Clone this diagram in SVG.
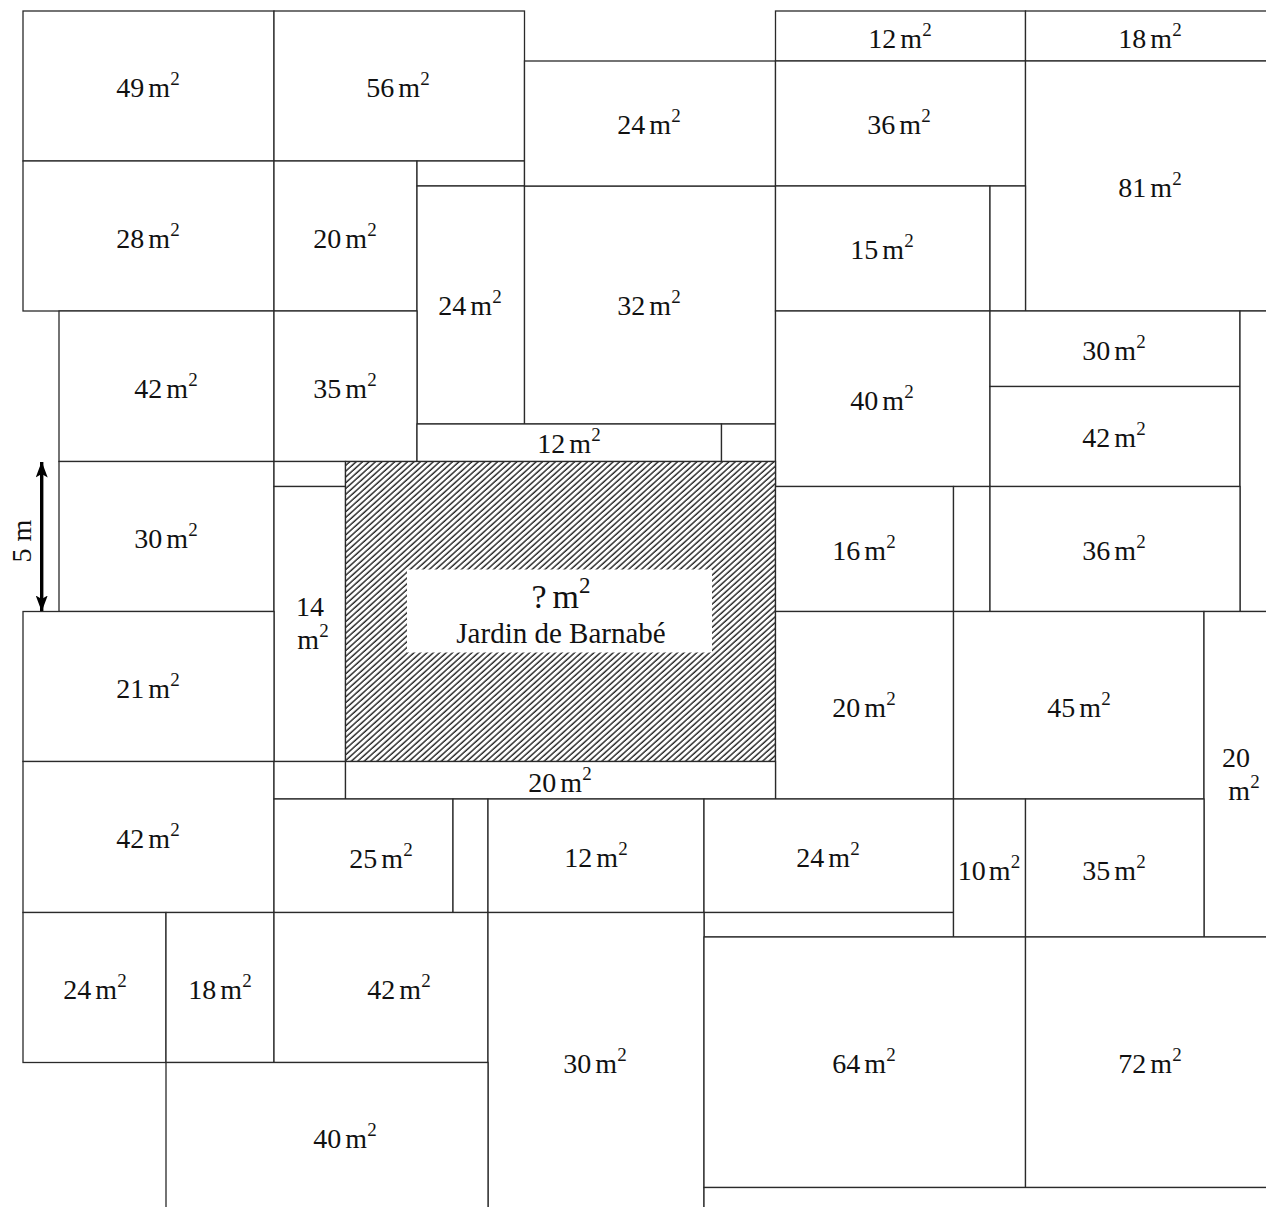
<svg xmlns="http://www.w3.org/2000/svg" width="1266" height="1207" viewBox="0 0 1266 1207">
<defs>
<style>
.c{fill:#fff;stroke:#2a2a2a;stroke-width:1.3}
text{font-family:"Liberation Serif","Times New Roman",serif;font-size:28px;fill:#111;text-anchor:middle}
.s{font-size:19px}
.big{font-size:34px}
.bs{font-size:23px}
</style>
<pattern id="hatch" width="4.3" height="10" patternUnits="userSpaceOnUse" patternTransform="rotate(48)">
<rect width="4.3" height="10" fill="#fff"/>
<line x1="1" y1="0" x2="1" y2="10" stroke="#1a1a1a" stroke-width="1.35"/>
</pattern>
<marker id="ah" viewBox="0 0 16 12" refX="15.5" refY="6" markerWidth="16" markerHeight="12" markerUnits="userSpaceOnUse" orient="auto-start-reverse">
<path d="M0,0 L16,6 L0,12 L3.5,6 z" fill="#000"/>
</marker>
</defs>
<rect width="1266" height="1207" fill="#fff"/>

<g id="p49"><rect class="c" x="23" y="11" width="251" height="150"/><text x="148" y="97">49<tspan dx="4">m</tspan><tspan class="s" dy="-12">2</tspan></text></g>
<g id="p56"><rect class="c" x="274" y="11" width="250.5" height="150"/><text x="398" y="97">56<tspan dx="4">m</tspan><tspan class="s" dy="-12">2</tspan></text></g>
<g id="p28"><rect class="c" x="23" y="161" width="251" height="150"/><text x="148" y="248">28<tspan dx="4">m</tspan><tspan class="s" dy="-12">2</tspan></text></g>
<g id="p20a"><rect class="c" x="274" y="161" width="143" height="150"/><text x="345" y="248">20<tspan dx="4">m</tspan><tspan class="s" dy="-12">2</tspan></text></g>
<g id="e1"><rect class="c" x="417" y="161" width="107.5" height="25"/></g>
<g id="p24b"><rect class="c" x="417" y="186" width="107.5" height="238"/><text x="470" y="315">24<tspan dx="4">m</tspan><tspan class="s" dy="-12">2</tspan></text></g>
<g id="p32"><rect class="c" x="524.5" y="186" width="251" height="238"/><text x="649" y="315">32<tspan dx="4">m</tspan><tspan class="s" dy="-12">2</tspan></text></g>
<g id="p24a"><rect class="c" x="524.5" y="61" width="251" height="125"/><text x="649" y="134">24<tspan dx="4">m</tspan><tspan class="s" dy="-12">2</tspan></text></g>
<g id="p12a"><rect class="c" x="775.5" y="11" width="250" height="50"/><text x="900" y="48">12<tspan dx="4">m</tspan><tspan class="s" dy="-12">2</tspan></text></g>
<g id="p18a"><rect class="c" x="1025.5" y="11" width="250.5" height="50"/><text x="1150" y="48">18<tspan dx="4">m</tspan><tspan class="s" dy="-12">2</tspan></text></g>
<g id="p36a"><rect class="c" x="775.5" y="61" width="250" height="125"/><text x="899" y="134">36<tspan dx="4">m</tspan><tspan class="s" dy="-12">2</tspan></text></g>
<g id="p81"><rect class="c" x="1025.5" y="61" width="250.5" height="250"/><text x="1150" y="197">81<tspan dx="4">m</tspan><tspan class="s" dy="-12">2</tspan></text></g>
<g id="p15"><rect class="c" x="775.5" y="186" width="214.5" height="125"/><text x="882" y="259">15<tspan dx="4">m</tspan><tspan class="s" dy="-12">2</tspan></text></g>
<g id="e2"><rect class="c" x="990" y="186" width="35.5" height="125"/></g>
<g id="p42a"><rect class="c" x="59" y="311" width="215" height="150.5"/><text x="166" y="398">42<tspan dx="4">m</tspan><tspan class="s" dy="-12">2</tspan></text></g>
<g id="p35a"><rect class="c" x="274" y="311" width="143" height="150.5"/><text x="345" y="398">35<tspan dx="4">m</tspan><tspan class="s" dy="-12">2</tspan></text></g>
<g id="p12b"><rect class="c" x="417" y="424" width="304.5" height="37.5"/><text x="569" y="453">12<tspan dx="4">m</tspan><tspan class="s" dy="-12">2</tspan></text></g>
<g id="e3"><rect class="c" x="721.5" y="424" width="54" height="37.5"/></g>
<g id="p40a"><rect class="c" x="775.5" y="311" width="214.5" height="175.5"/><text x="882" y="410">40<tspan dx="4">m</tspan><tspan class="s" dy="-12">2</tspan></text></g>
<g id="p30a"><rect class="c" x="990" y="311" width="250" height="75.5"/><text x="1114" y="360">30<tspan dx="4">m</tspan><tspan class="s" dy="-12">2</tspan></text></g>
<g id="p42b"><rect class="c" x="990" y="386.5" width="250" height="100"/><text x="1114" y="447">42<tspan dx="4">m</tspan><tspan class="s" dy="-12">2</tspan></text></g>
<g id="e4"><rect class="c" x="1240" y="311" width="36" height="300.5"/></g>
<g id="p30b"><rect class="c" x="59" y="461.5" width="215" height="150"/><text x="166" y="548">30<tspan dx="4">m</tspan><tspan class="s" dy="-12">2</tspan></text></g>
<g id="e5"><rect class="c" x="274" y="461.5" width="71.5" height="25"/></g>
<g id="p14"><rect class="c" x="274" y="486.5" width="71.5" height="275"/><text x="310" y="616">14</text><text x="313" y="649">m<tspan class="s" dy="-12">2</tspan></text></g>
<g id="garden"><rect x="345.5" y="461.5" width="430" height="300" fill="url(#hatch)" stroke="#2a2a2a" stroke-width="1.3"/><rect x="407" y="569.5" width="305" height="83" fill="#fff"/><text class="big" x="561" y="608">?<tspan dx="6">m</tspan><tspan class="bs" dy="-15">2</tspan></text><text x="561" y="643" style="font-size:29px">Jardin de Barnabé</text></g>
<g id="p16"><rect class="c" x="775.5" y="486.5" width="178" height="125"/><text x="864" y="560">16<tspan dx="4">m</tspan><tspan class="s" dy="-12">2</tspan></text></g>
<g id="e6"><rect class="c" x="953.5" y="486.5" width="36.5" height="125"/></g>
<g id="p36b"><rect class="c" x="990" y="486.5" width="250" height="125"/><text x="1114" y="560">36<tspan dx="4">m</tspan><tspan class="s" dy="-12">2</tspan></text></g>
<g id="p21"><rect class="c" x="23" y="611.5" width="251" height="150"/><text x="148" y="698">21<tspan dx="4">m</tspan><tspan class="s" dy="-12">2</tspan></text></g>
<g id="p20b"><rect class="c" x="775.5" y="611.5" width="178" height="187.5"/><text x="864" y="717">20<tspan dx="4">m</tspan><tspan class="s" dy="-12">2</tspan></text></g>
<g id="p45"><rect class="c" x="953.5" y="611.5" width="250.5" height="187.5"/><text x="1079" y="717">45<tspan dx="4">m</tspan><tspan class="s" dy="-12">2</tspan></text></g>
<g id="p20c"><rect class="c" x="1204" y="611.5" width="72" height="325.5"/><text x="1236" y="767">20</text><text x="1244" y="800">m<tspan class="s" dy="-12">2</tspan></text></g>
<g id="p42c"><rect class="c" x="23" y="761.5" width="251" height="151"/><text x="148" y="848">42<tspan dx="4">m</tspan><tspan class="s" dy="-12">2</tspan></text></g>
<g id="e7"><rect class="c" x="274" y="761.5" width="71.5" height="37.5"/></g>
<g id="p20d"><rect class="c" x="345.5" y="761.5" width="430" height="37.5"/><text x="560" y="792">20<tspan dx="4">m</tspan><tspan class="s" dy="-12">2</tspan></text></g>
<g id="p25"><rect class="c" x="274" y="799" width="179" height="113.5"/><text x="381" y="868">25<tspan dx="4">m</tspan><tspan class="s" dy="-12">2</tspan></text></g>
<g id="e8"><rect class="c" x="453" y="799" width="35" height="113.5"/></g>
<g id="p12c"><rect class="c" x="488" y="799" width="216" height="113.5"/><text x="596" y="867">12<tspan dx="4">m</tspan><tspan class="s" dy="-12">2</tspan></text></g>
<g id="p24c"><rect class="c" x="704" y="799" width="249.5" height="113.5"/><text x="828" y="867">24<tspan dx="4">m</tspan><tspan class="s" dy="-12">2</tspan></text></g>
<g id="e9"><rect class="c" x="704" y="912.5" width="249.5" height="24.5"/></g>
<g id="p10"><rect class="c" x="953.5" y="799" width="72" height="138"/><text x="989" y="880">10<tspan dx="3">m</tspan><tspan class="s" dy="-12">2</tspan></text></g>
<g id="p35b"><rect class="c" x="1025.5" y="799" width="178.5" height="138"/><text x="1114" y="880">35<tspan dx="4">m</tspan><tspan class="s" dy="-12">2</tspan></text></g>
<g id="p24d"><rect class="c" x="23" y="912.5" width="143" height="150"/><text x="95" y="999">24<tspan dx="4">m</tspan><tspan class="s" dy="-12">2</tspan></text></g>
<g id="p18b"><rect class="c" x="166" y="912.5" width="108" height="150"/><text x="220" y="999">18<tspan dx="4">m</tspan><tspan class="s" dy="-12">2</tspan></text></g>
<g id="p42d"><rect class="c" x="274" y="912.5" width="214" height="150"/><text x="399" y="999">42<tspan dx="4">m</tspan><tspan class="s" dy="-12">2</tspan></text></g>
<g id="p30c"><rect class="c" x="488" y="912.5" width="216" height="300"/><text x="595" y="1073">30<tspan dx="4">m</tspan><tspan class="s" dy="-12">2</tspan></text></g>
<g id="p40b"><rect class="c" x="166" y="1062.5" width="322" height="150"/><text x="345" y="1148">40<tspan dx="4">m</tspan><tspan class="s" dy="-12">2</tspan></text></g>
<g id="p64"><rect class="c" x="704" y="937" width="321.5" height="250.5"/><text x="864" y="1073">64<tspan dx="4">m</tspan><tspan class="s" dy="-12">2</tspan></text></g>
<g id="p72"><rect class="c" x="1025.5" y="937" width="250.5" height="250.5"/><text x="1150" y="1073">72<tspan dx="4">m</tspan><tspan class="s" dy="-12">2</tspan></text></g>
<g id="e10"><rect class="c" x="704" y="1187.5" width="572" height="30"/></g>

<g id="connectors">
<line x1="41.7" y1="462" x2="41.7" y2="611" stroke="#000" stroke-width="3.4" marker-start="url(#ah)" marker-end="url(#ah)"/>
<text transform="translate(31,541) rotate(-90)">5 m</text>
</g>
</svg>
